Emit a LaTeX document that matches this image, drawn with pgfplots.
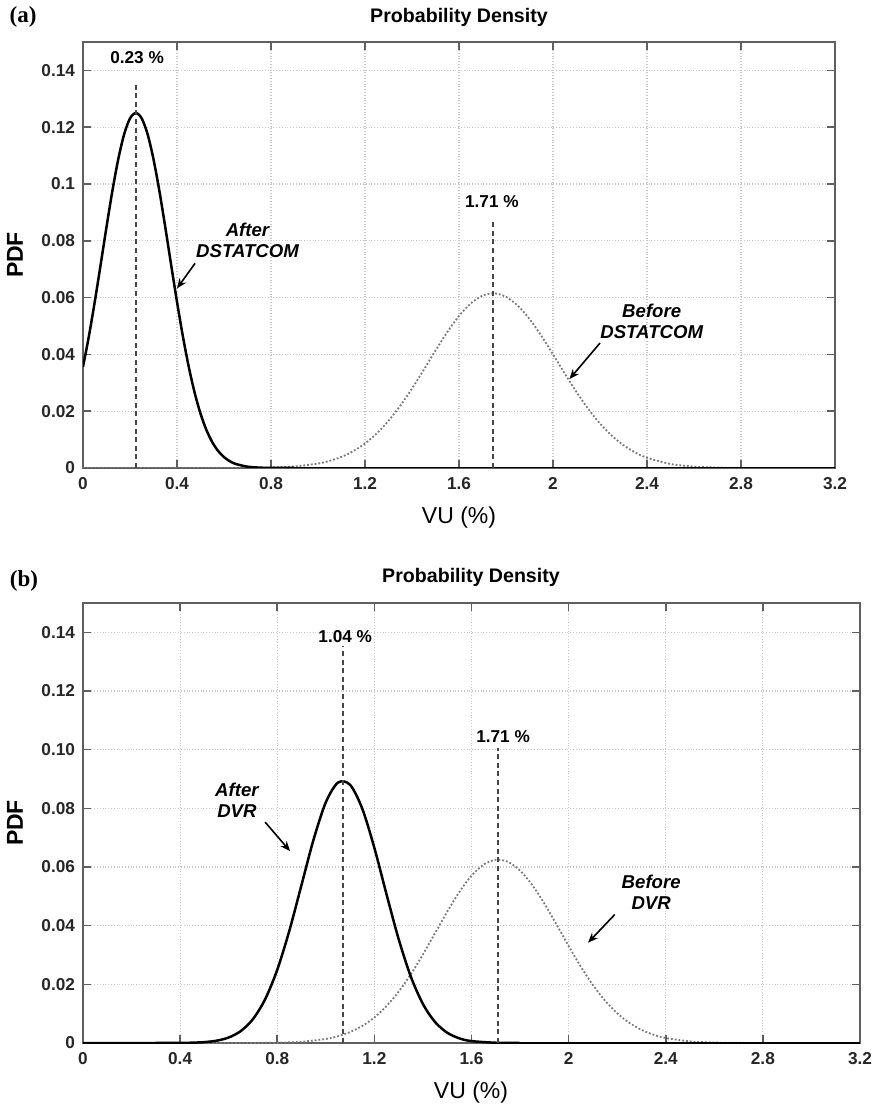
\documentclass[border=0pt]{standalone}
\usepackage{fontspec}
\setmainfont{Liberation Sans}
\newfontfamily\serifb{Liberation Serif}
\usepackage{pgfplots}
\pgfplotsset{compat=1.18}
\usetikzlibrary{arrows.meta}
\definecolor{axgray}{RGB}{95,95,95}
\definecolor{gridgray}{RGB}{200,200,200}
\definecolor{dotgray}{RGB}{120,120,120}
\definecolor{dashgray}{RGB}{70,70,70}

\tikzset{
  note/.style={font=\bfseries\itshape\fontsize{9.3}{10.5}\selectfont, align=center},
  pct/.style={font=\bfseries\fontsize{8.6}{10}\selectfont},
  curveA/.style={black, line width=1.25pt, smooth},
  curveB/.style={dotgray, line width=0.9pt, densely dotted, smooth},
  peakline/.style={dashgray, line width=0.8pt, dash pattern=on 2.5pt off 1.8pt},
}
\pgfplotsset{
  pdfax/.style={
    scale only axis,
    anchor=south west,
    xmin=0, xmax=3.2, ymin=0, ymax=0.15,
    xtick={0,0.4,0.8,1.2,1.6,2,2.4,2.8,3.2},
    xticklabels={0,0.4,0.8,1.2,1.6,2,2.4,2.8,3.2},
    ytick={0,0.02,0.04,0.06,0.08,0.1,0.12,0.14},
    grid=major,
    grid style={densely dotted, color=gridgray, line width=0.6pt},
    axis line style={draw=axgray, line width=1pt},
    tick align=inside,
    major tick length=4pt,
    tick style={draw=axgray, line width=0.8pt},
    /pgf/number format/assume math mode=true,
    every tick label/.style={font=\bfseries\fontsize{8.6}{10}\selectfont, text=black!85},
    xticklabel style={yshift=-1pt},
    yticklabel style={xshift=-0.5pt},
    clip=true,
  },
}

\begin{document}
\begin{tikzpicture}
\path[use as bounding box] (0,0) rectangle (440pt,553pt);

%% (a) before / after DSTATCOM
\begin{axis}[pdfax, at={(41.5pt,319pt)}, width=376pt, height=213pt,
  yticklabels={0,0.02,0.04,0.06,0.08,0.1,0.12,0.14}]
\addplot[curveB] coordinates {
  (0,0)(0.3,0)(0.6,0)(0.7,0.000045)(0.8,0.000168)(0.9,0.000548)
  (1.0,0.001568)(1.05,0.002524)(1.1,0.00393)(1.15,0.00592)(1.2,0.008629)
  (1.25,0.01217)(1.3,0.01661)(1.35,0.02192)(1.4,0.02799)(1.45,0.03459)
  (1.5,0.04135)(1.55,0.04783)(1.6,0.05352)(1.65,0.05794)(1.7,0.06068)
  (1.75,0.0615)(1.8,0.06028)(1.85,0.05718)(1.9,0.05246)(1.95,0.04658)
  (2.0,0.04001)(2.05,0.03325)(2.1,0.02673)(2.15,0.02079)(2.2,0.01565)
  (2.25,0.01139)(2.3,0.00802)(2.35,0.00547)(2.4,0.00361)(2.5,0.00142)
  (2.6,0.00049)(2.7,0.00015)(2.8,0.00004)(2.9,0)(3.2,0)
};
\addplot[curveA] coordinates {
  (0,0.03563)(0.025,0.04636)(0.05,0.0585)(0.075,0.07155)(0.1,0.08485)
  (0.125,0.09755)(0.15,0.10872)(0.175,0.11749)(0.2,0.12308)(0.225,0.125)
  (0.25,0.12308)(0.275,0.11749)(0.3,0.10872)(0.325,0.09755)(0.35,0.08485)
  (0.375,0.07155)(0.4,0.0585)(0.425,0.04636)(0.45,0.03563)(0.475,0.02654)
  (0.5,0.01916)(0.525,0.01341)(0.55,0.00911)(0.575,0.006)(0.6,0.00382)
  (0.625,0.00237)(0.65,0.00142)(0.7,0.00046)(0.75,0.00013)(0.8,0.00003)
  (0.9,0)
};
\addplot[black, line width=1.25pt] coordinates {(0.9,0)(3.2,0)};
\addplot[peakline] coordinates {(0.225,0)(0.225,0.135)};
\addplot[peakline] coordinates {(1.745,0)(1.745,0.0874)};
\node[pct] at (axis cs:0.23,0.1445) {0.23 \%};
\node[pct] at (axis cs:1.74,0.0938) {1.71 \%};
\node[note] at (axis cs:0.70,0.0800) {After\\DSTATCOM};
\draw[-{Stealth[length=5pt,width=4pt]}, line width=0.8pt] (axis cs:0.477,0.0721) -- (axis cs:0.40,0.0632);
\node[note] at (axis cs:2.42,0.0517) {Before\\DSTATCOM};
\draw[-{Stealth[length=5pt,width=4pt]}, line width=0.8pt] (axis cs:2.20,0.0440) -- (axis cs:2.07,0.0313);
\end{axis}

%% (b) before / after DVR
\begin{axis}[pdfax, at={(41.5pt,31.5pt)}, width=388.5pt, height=220pt,
  yticklabels={0,0.02,0.04,0.06,0.08,0.10,0.12,0.14}]
\addplot[curveB] coordinates {
  (0,0)(0.3,0)(0.6,0)(0.7,0.000028)(0.8,0.000118)(0.9,0.000436)
  (1.0,0.001376)(1.05,0.002311)(1.1,0.003736)(1.15,0.005821)(1.2,0.008723)
  (1.25,0.01259)(1.3,0.01751)(1.35,0.02343)(1.4,0.0302)(1.45,0.03747)
  (1.5,0.04476)(1.55,0.05149)(1.6,0.05703)(1.65,0.06082)(1.7,0.06245)
  (1.75,0.06175)(1.8,0.05878)(1.85,0.05388)(1.9,0.04756)(1.95,0.04041)
  (2.0,0.03307)(2.05,0.02605)(2.1,0.01976)(2.15,0.01444)(2.2,0.01015)
  (2.25,0.00688)(2.3,0.00448)(2.35,0.00281)(2.4,0.0017)(2.5,0.000555)
  (2.6,0.000156)(2.7,0.00004)(2.8,0)(3.2,0)
};
\addplot[curveA] coordinates {
  (0,0)(0.3,0)(0.4,0.000035)(0.45,0.000107)(0.5,0.000303)(0.55,0.000786)
  (0.6,0.00187)(0.65,0.00408)(0.7,0.00814)(0.75,0.01489)(0.8,0.02495)
  (0.85,0.03832)(0.9,0.05391)(0.95,0.06948)(1.0,0.08205)(1.05,0.08877)
  (1.1,0.08801)(1.15,0.07992)(1.2,0.0665)(1.25,0.0507)
  (1.3,0.03541)(1.35,0.02266)(1.4,0.01329)(1.45,0.00714)(1.5,0.00351)
  (1.55,0.00158)(1.6,0.00065)(1.7,0.000086)(1.8,0)
};
\addplot[black, line width=1.25pt] coordinates {(1.8,0)(3.2,0)};
\addplot[peakline] coordinates {(1.07,0)(1.07,0.1353)};
\addplot[peakline] coordinates {(1.71,0)(1.71,0.1007)};
\node[pct] at (axis cs:1.08,0.1387) {1.04 \%};
\node[pct] at (axis cs:1.73,0.1045) {1.71 \%};
\node[note] at (axis cs:0.634,0.0827) {After\\DVR};
\draw[-{Stealth[length=5pt,width=4pt]}, line width=0.8pt] (axis cs:0.75,0.0753) -- (axis cs:0.853,0.0654);
\node[note] at (axis cs:2.34,0.0514) {Before\\DVR};
\draw[-{Stealth[length=5pt,width=4pt]}, line width=0.8pt] (axis cs:2.19,0.0438) -- (axis cs:2.08,0.0342);
\end{axis}

%% panel letters, titles and axis labels (pixel grid of the reference)
\begin{scope}[x=0.5pt, y=-0.5pt, shift={(0,553pt)}]
\node[font=\serifb\bfseries\fontsize{11.5}{13}\selectfont] at (23,17) {(a)};
\node[font=\serifb\bfseries\fontsize{11.5}{13}\selectfont] at (24,581) {(b)};
\node[font=\bfseries\fontsize{9.8}{11}\selectfont] at (459,17) {Probability Density};
\node[font=\bfseries\fontsize{9.8}{11}\selectfont] at (471,577) {Probability Density};
\node[font=\fontsize{11.5}{13}\selectfont] at (459,518) {VU (\%)};
\node[font=\fontsize{11.5}{13}\selectfont] at (471,1093) {VU (\%)};
\node[font=\bfseries\fontsize{11.5}{13}\selectfont, rotate=90] at (15,255) {PDF};
\node[font=\bfseries\fontsize{11.5}{13}\selectfont, rotate=90] at (15,823) {PDF};
\end{scope}
\end{tikzpicture}
\end{document}
